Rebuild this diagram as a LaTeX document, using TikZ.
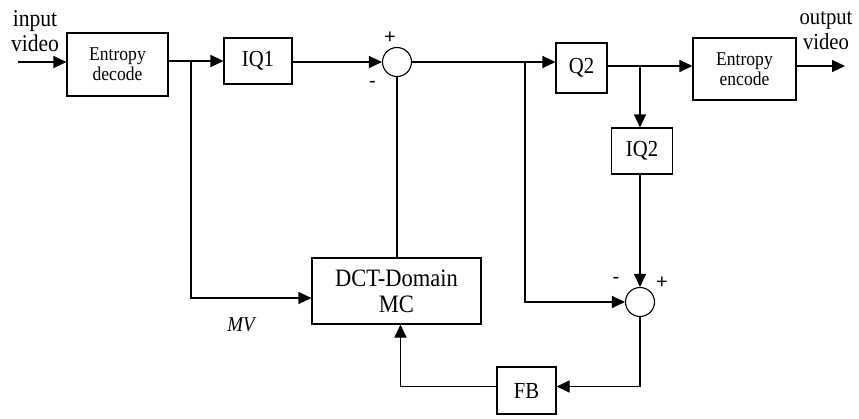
\documentclass[tikz,border=0pt]{standalone}
\usepackage{fontspec}
\setmainfont[FakeStretch=0.9]{Liberation Serif}
\newfontfamily\signfont{Liberation Sans}
\usetikzlibrary{arrows.meta}
\begin{document}
\begin{tikzpicture}[x=1pt,y=-1pt,
  line width=1.1pt,
  blk/.style={draw,rectangle,inner sep=0pt,align=center},
  sm/.style={draw,circle,minimum size=29pt,inner sep=0pt},
  arr/.style={-{Triangle[length=13pt,width=12pt]}},
  small/.style={font=\fontsize{19.5}{20}\selectfont},
  big/.style={font=\fontsize{23}{25}\selectfont},
  dctf/.style={font=\fontsize{25}{26}\selectfont},
  sign/.style={font=\signfont\fontsize{20}{20}\selectfont,inner sep=0pt}]
\useasboundingbox (0,0) rectangle (859,418);
% blocks
\node[blk,small,minimum width=101pt,minimum height=63pt] (ed) at (117.5,64.5) {Entropy\\decode};
\node[blk,big,minimum width=68pt,minimum height=46pt] (iq1) at (258,61) {IQ1};
\node[sm] (s1) at (397,62) {};
\node[blk,big,minimum width=51pt,minimum height=50pt] (q2) at (581.5,68) {Q2};
\node[blk,small,minimum width=103pt,minimum height=62pt] (ee) at (744.5,69) {Entropy\\encode};
\node[blk,big,minimum width=61pt,minimum height=46pt] (iq2) at (642,151) {IQ2};
\node[sm] (s2) at (640,302) {};
\node[blk,dctf,minimum width=169pt,minimum height=66pt] (dct) at (396.5,291) {DCT-Domain\\MC};
\node[blk,big,minimum width=59pt,minimum height=47pt] (fb) at (526.5,390.5) {FB};
% texts
\node[font=\fontsize{24}{25}\selectfont,align=center,inner sep=0pt] (inlab) at (35,31) {input\\video};
\node[font=\fontsize{23}{25}\selectfont,align=center,inner sep=0pt] (outlab) at (826,31) {output\\video};
\node[font=\fontsize{21}{21}\selectfont\itshape,inner sep=0pt] (mv) at (241,325) {MV};
\node[sign] (p1) at (390,38) {+};
\node[sign] (m1) at (372.5,84) {-};
\node[sign] (m2) at (616,280) {-};
\node[sign] (p2) at (662,283) {+};
% coordinates
\coordinate (in) at (18,62);
\coordinate (b1) at (191,61);
\coordinate (b2) at (525,62);
\coordinate (b3) at (640,66);
\coordinate (out) at (845,66);
% connectors
\draw[arr] (in) -- (in -| ed.west);
\draw[arr] (ed.east |- iq1) -- (iq1.west);
\draw[arr] (b1) |- ([yshift=-7pt]dct.west);
\draw[arr] (iq1.east |- s1) -- (s1.west);
\draw[arr] (s1.east) -- (s1.east -| q2.west);
\draw[arr] (b2) |- (s2.west);
\draw[arr] (q2.east |- b3) -- (b3 -| ee.west);
\draw[arr] (b3) -- (b3 |- iq2.north);
\draw[arr] (ee.east |- out) -- (out);
\draw[arr] (s2 |- iq2.south) -- (s2.north);
\draw[arr] (s2.south) |- ([yshift=4pt]fb.east);
\draw[arr] ([yshift=4pt]fb.west) -| ([xshift=4pt]dct.south);
\draw (s1.south) -- (s1 |- dct.north);
\end{tikzpicture}
\end{document}
